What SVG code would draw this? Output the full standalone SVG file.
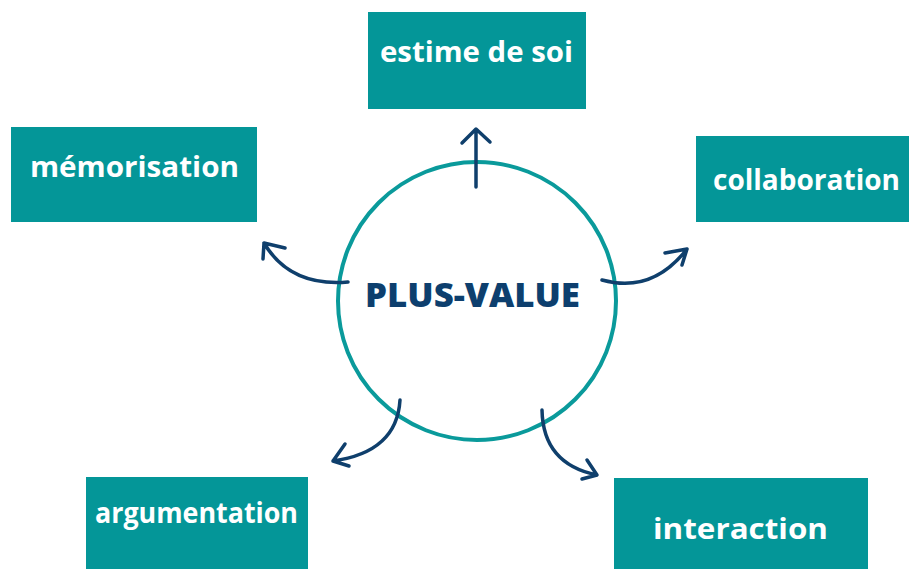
<svg xmlns="http://www.w3.org/2000/svg" width="909" height="569" viewBox="0 0 909 569">
<defs>
<style>
.box{fill:#049698;}
.lbl{font-family:"Open Sans","Liberation Sans",sans-serif;font-weight:700;font-size:29px;fill:#ffffff;}
.con{fill:none;stroke:#0f3f6c;stroke-width:3.5;stroke-linecap:round;stroke-linejoin:round;}
.title{font-family:"Open Sans","Liberation Sans",sans-serif;font-weight:800;font-size:33px;fill:#0d3f6e;}
</style>
</defs>
<rect width="909" height="569" fill="#ffffff"/>
<g id="center">
<circle cx="477" cy="301" r="139" fill="none" stroke="#0a9a9b" stroke-width="4"/>
<text class="title" x="365" y="307" textLength="215" lengthAdjust="spacingAndGlyphs">PLUS-VALUE</text>
</g>
<g id="estime">
<rect class="box" x="368" y="12" width="218" height="97"/>
<text class="lbl" x="380" y="62" textLength="193" lengthAdjust="spacingAndGlyphs">estime de soi</text>
</g>
<g id="memorisation">
<rect class="box" x="11" y="127" width="246" height="95"/>
<text class="lbl" x="30" y="177" textLength="209" lengthAdjust="spacingAndGlyphs">mémorisation</text>
</g>
<g id="collaboration">
<rect class="box" x="696" y="136" width="213" height="86"/>
<text class="lbl" x="713" y="190" textLength="187" lengthAdjust="spacingAndGlyphs">collaboration</text>
</g>
<g id="argumentation">
<rect class="box" x="86" y="477" width="222" height="92"/>
<text class="lbl" x="95" y="523" textLength="203" lengthAdjust="spacingAndGlyphs">argumentation</text>
</g>
<g id="interaction">
<rect class="box" x="614" y="478" width="254" height="91"/>
<text class="lbl" x="653" y="539" textLength="175" lengthAdjust="spacingAndGlyphs">interaction</text>
</g>
<g id="connectors">
<path class="con" d="M476,187 L476,130 M462,143 L476,129 L490,142"/>
<path class="con" d="M348,282 Q290,287 264,243 M263,259 L264,243 L285,248"/>
<path class="con" d="M602,280 Q652,294 687,249 M665,253 L687,249 L682,265"/>
<path class="con" d="M400,400 Q397,452 333,461 M345,444 L333,461 L349,466"/>
<path class="con" d="M542,410 Q543,464 597,475 M587,460 L597,475 L582,479"/>
</g>
</svg>
